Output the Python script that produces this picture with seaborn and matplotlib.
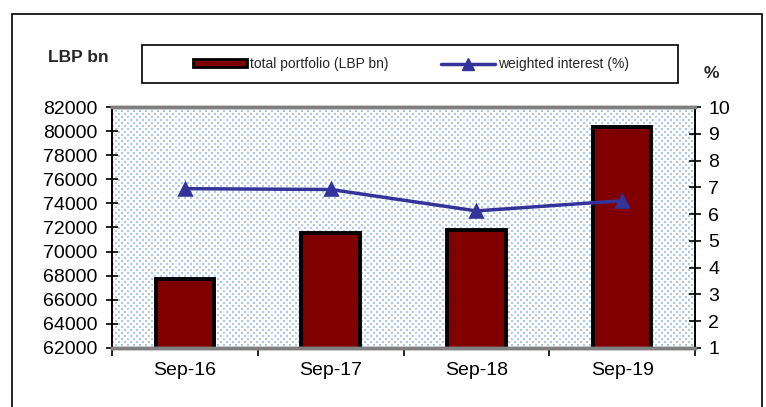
import matplotlib
matplotlib.use("Agg")
import matplotlib.pyplot as plt
from matplotlib.patches import Rectangle
from matplotlib.lines import Line2D
import seaborn as sns
import pandas as pd
import numpy as np

categories = ["Sep-16", "Sep-17", "Sep-18", "Sep-19"]
portfolio = [67750, 71550, 71800, 80300]
interest = [6.95, 6.92, 6.12, 6.50]
left_ticks = [62000, 64000, 66000, 68000, 70000, 72000, 74000, 76000, 78000, 80000, 82000]
right_ticks = [1, 2, 3, 4, 5, 6, 7, 8, 9, 10]

sns.set_theme(style="white")
plt.rcParams["font.family"] = ["Liberation Sans", "DejaVu Sans"]

df = pd.DataFrame({"cat": categories, "portfolio": portfolio, "interest": interest})

W, H = 766, 407
AX_L, AX_R, AX_T, AX_B = 112, 695, 107, 348
fig = plt.figure(figsize=(W / 100, H / 100), dpi=100)
fig.patch.set_facecolor("white")

# dotted background texture of the plot area
pw, ph = AX_R - AX_L, AX_B - AX_T
tex = np.ones((ph, pw, 3))
dot = np.array([0xa6, 0xc8, 0xf2]) / 255.0
for r in range(0, ph, 3):
    off = 0 if (r // 3) % 2 == 0 else 3
    for c in range(off, pw, 6):
        tex[r:r + 2, c:c + 2] = dot
fig.figimage(tex, xo=AX_L, yo=H - AX_B, zorder=-1)

# outer frame
fig.add_artist(Rectangle((12 / W, -0.02), (762 - 12) / W, 1.02 - 14 / H,
                         transform=fig.transFigure, fill=False, edgecolor="black", lw=1.2))

ax = fig.add_axes([AX_L / W, (H - AX_B) / H, pw / W, ph / H])
ax.patch.set_alpha(0)

sns.barplot(data=df, x="cat", y="portfolio", ax=ax, width=0.4, color="#800000",
            saturation=1, edgecolor="black", linewidth=2.8, zorder=2)
ax.set_ylim(62000, 82000)
ax.set_xlim(-0.5, 3.5)
ax.set_yticks(left_ticks)
ax.set_yticklabels([str(v) for v in left_ticks], fontsize=14, color="black")
ax.set_xticks([-0.5, 0.5, 1.5, 2.5, 3.5])
ax.set_xticklabels([""] * 5)
ax.set_xticks([0, 1, 2, 3], minor=True)
ax.set_xticklabels(categories, minor=True, fontsize=14, color="black")
ax.tick_params(axis="x", which="major", direction="out", length=6, width=1.2, color="black", bottom=True)
ax.tick_params(axis="x", which="minor", length=0, pad=10)
ax.tick_params(axis="y", direction="inout", length=9, width=1.2, color="black", left=True, pad=6)
ax.set_xlabel("")
ax.set_ylabel("")

ax2 = ax.twinx()
sns.pointplot(data=df, x="cat", y="interest", ax=ax2, color="#333399", markers="^",
              linestyles="-", markersize=9, linewidth=2.5, zorder=3)
ax2.set_ylim(1, 10)
ax2.set_xlim(-0.5, 3.5)
ax2.set_yticks(right_ticks)
ax2.set_yticklabels([str(v) for v in right_ticks], fontsize=14, color="black")
ax2.tick_params(axis="y", direction="inout", length=9, width=1.2, color="black", right=True, pad=5)
ax2.set_ylabel("")
ax2.set_xlabel("")

for a in (ax, ax2):
    for s in a.spines.values():
        s.set_visible(True)
    a.spines["top"].set_color("#808080")
    a.spines["top"].set_linewidth(2.5)
    a.spines["bottom"].set_color("#808080")
    a.spines["bottom"].set_linewidth(2.5)
    a.spines["left"].set_color("black")
    a.spines["left"].set_linewidth(1.3)
    a.spines["right"].set_color("black")
    a.spines["right"].set_linewidth(1.3)

fig.text(48 / W, 1 - 57 / H, "LBP bn", fontsize=12.5, fontweight="bold", va="center", ha="left")
fig.text(704 / W, 1 - 73 / H, "%", fontsize=12.5, fontweight="bold", va="center", ha="left")

# legend box
fig.add_artist(Rectangle((142 / W, 1 - 83 / H), (678 - 142) / W, (83 - 45) / H,
                         transform=fig.transFigure, fill=False, edgecolor="black", lw=1.2))
h1 = Rectangle((0, 0), 1, 1, facecolor="#800000", edgecolor="black", lw=2)
h2 = Line2D([], [], color="#333399", marker="^", lw=2.5, markersize=8)
fig.legend([h1, h2], ["total portfolio (LBP bn)", "weighted interest (%)"],
           loc="center", bbox_to_anchor=(411 / W, 1 - 64 / H), ncol=2, frameon=False,
           fontsize=10, handlelength=3.9, handleheight=0.45, handletextpad=0.2,
           columnspacing=3.8)

fig.savefig("out.png", dpi=100)
